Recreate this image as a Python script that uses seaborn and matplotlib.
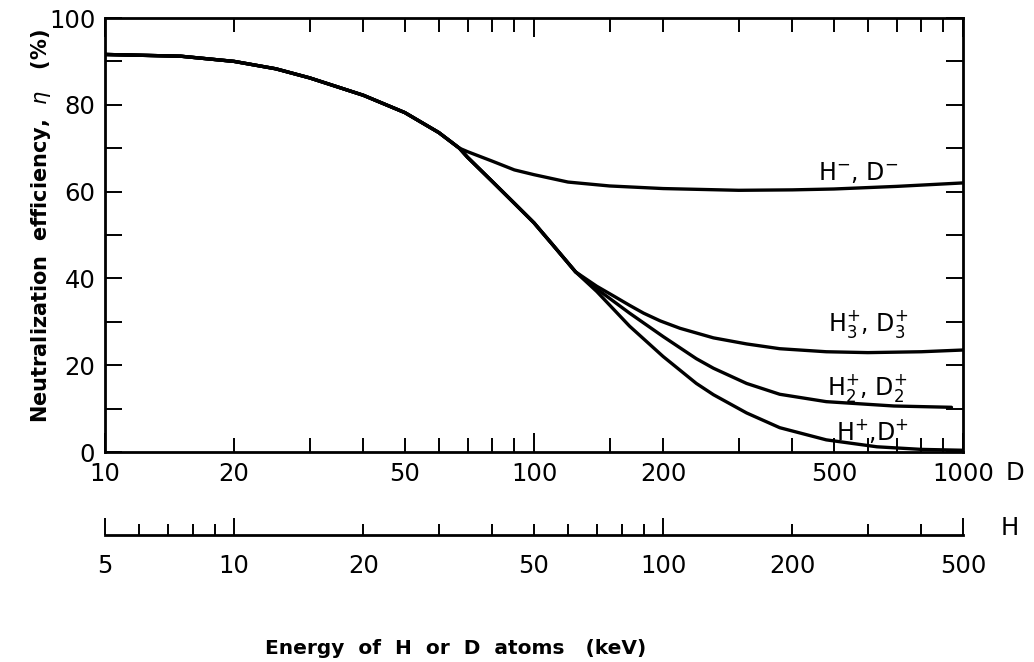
import matplotlib
matplotlib.use("Agg")
import matplotlib.pyplot as plt
import numpy as np
import pandas as pd
import seaborn as sns
from matplotlib.ticker import FixedLocator, FuncFormatter, NullFormatter

# ---------------- data (energy of D atoms in keV, efficiency in %) ----------------
beam_names = ["H-,D-", "H3+,D3+", "H2+,D2+", "H+,D+"]

energy_hminus = [10, 15, 20, 25, 30, 40, 50, 60, 67, 70, 80, 90, 100, 120, 150,
                 200, 300, 400, 500, 700, 1000]
eff_hminus = [91.6, 91.2, 90.0, 88.3, 86.2, 82.2, 78.2, 73.6, 70.0, 69.2, 67.0, 65.0,
              63.9, 62.2, 61.3, 60.7, 60.3, 60.4, 60.6, 61.2, 62.0]

energy_h3 = [10, 15, 20, 25, 30, 40, 50, 60, 67, 70, 80, 90, 100, 110, 125, 140, 153,
             167, 180, 197, 219, 262, 313, 374, 480, 600, 800, 1000]
eff_h3 = [91.6, 91.2, 90.0, 88.3, 86.2, 82.2, 78.2, 73.6, 70.0, 67.9, 62.3, 57.3, 52.8,
          48.0, 41.5, 38.2, 36.0, 33.8, 32.0, 30.2, 28.5, 26.3, 24.9, 23.8, 23.1, 22.9,
          23.1, 23.5]

energy_h2 = [10, 15, 20, 25, 30, 40, 50, 60, 67, 70, 80, 90, 100, 110, 125, 140, 167,
             200, 239, 262, 313, 374, 480, 690, 940]
eff_h2 = [91.6, 91.2, 90.0, 88.3, 86.2, 82.2, 78.2, 73.6, 70.0, 67.9, 62.3, 57.3, 52.8,
          48.0, 41.5, 37.6, 32.0, 26.6, 21.5, 19.3, 15.8, 13.3, 11.6, 10.6, 10.3]

energy_h1 = [10, 15, 20, 25, 30, 40, 50, 60, 67, 70, 80, 90, 100, 110, 125, 140, 167,
             200, 239, 262, 313, 374, 480, 630, 800, 1000]
eff_h1 = [91.6, 91.2, 90.0, 88.3, 86.2, 82.2, 78.2, 73.6, 70.0, 67.9, 62.3, 57.3, 52.8,
          48.0, 41.5, 37.0, 29.0, 22.0, 15.8, 13.2, 9.0, 5.6, 2.8, 1.2, 0.6, 0.4]

curve_labels = [r"H$^{-}$, D$^{-}$", r"H$_3^{+}$, D$_3^{+}$",
                r"H$_2^{+}$, D$_2^{+}$", r"H$^{+}$,D$^{+}$"]

d_major = [10, 100, 1000]
d_minor = [20, 30, 40, 50, 60, 70, 80, 90, 150, 200, 300, 400, 500, 600, 700, 800, 900]
d_labels = [10, 20, 50, 100, 200, 500, 1000]

h_major = [5, 10, 100, 500]
h_minor = [6, 7, 8, 9, 20, 30, 40, 50, 60, 70, 80, 90, 200, 300, 400]
h_labels = [5, 10, 20, 50, 100, 200, 500]

y_major = [0, 20, 40, 60, 80, 100]
y_minor = [10, 30, 50, 70, 90]

# ---------------- style ----------------
sns.set_style("ticks")
plt.rcParams["font.family"] = ["DejaVu Sans"]
plt.rcParams["mathtext.fontset"] = "dejavusans"
plt.rcParams["text.color"] = "black"
plt.rcParams["axes.labelcolor"] = "black"
plt.rcParams["xtick.color"] = "black"
plt.rcParams["ytick.color"] = "black"

frames = []
for name, e, v in zip(beam_names,
                      [energy_hminus, energy_h3, energy_h2, energy_h1],
                      [eff_hminus, eff_h3, eff_h2, eff_h1]):
    frames.append(pd.DataFrame({"energy": e, "eff": v, "beam": name}))
df = pd.concat(frames, ignore_index=True)

fig = plt.figure(figsize=(10.34, 6.62), dpi=100)
ax = fig.add_axes([105 / 1034, 1 - 452 / 662, 858 / 1034, 434 / 662])

sns.lineplot(data=df, x="energy", y="eff", units="beam", estimator=None,
             color="black", linewidth=2.4, sort=False, ax=ax, legend=False)

ax.set_xscale("log")
ax.set_xlim(10, 1000)
ax.set_ylim(0, 100)

ax.xaxis.set_major_locator(FixedLocator(d_major))
ax.xaxis.set_minor_locator(FixedLocator(d_minor))
fmt_d = FuncFormatter(lambda v, p: f"{v:g}" if any(abs(v - l) < 1e-6 for l in d_labels) else "")
ax.xaxis.set_major_formatter(fmt_d)
ax.xaxis.set_minor_formatter(fmt_d)
ax.yaxis.set_major_locator(FixedLocator(y_major))
ax.yaxis.set_minor_locator(FixedLocator(y_minor))
ax.yaxis.set_minor_formatter(NullFormatter())

for s in ax.spines.values():
    s.set_visible(True)
    s.set_linewidth(2.0)
    s.set_color("black")

ax.tick_params(axis="x", which="both", direction="in", top=True, bottom=True,
               labelsize=17.5, pad=7, width=1.4, colors="black")
ax.tick_params(axis="x", which="major", length=14)
ax.tick_params(axis="x", which="minor", length=10)
ax.tick_params(axis="y", which="both", direction="in", left=True, right=True,
               labelsize=17.5, pad=7, width=1.4, length=12, colors="black")

ax.set_xlabel("Energy  of  H  or  D  atoms   (keV)", fontsize=14.5,
              fontweight="bold")
ax.xaxis.set_label_coords(0.409, -0.43)
ax.set_ylabel(r"Neutralization  efficiency,  $\eta$   (%)", fontsize=15,
              fontweight="bold")
ax.yaxis.set_label_coords(-0.061, 0.52)

# secondary H scale (H energy = D energy / 2)
sec = ax.secondary_xaxis(-0.191, functions=(lambda d: d / 2.0, lambda h: h * 2.0))
sec.xaxis.set_major_locator(FixedLocator(h_major))
sec.xaxis.set_minor_locator(FixedLocator(h_minor))
fmt_h = FuncFormatter(lambda v, p: f"{v:g}" if any(abs(v - l) < 1e-6 for l in h_labels) else "")
sec.xaxis.set_major_formatter(fmt_h)
sec.xaxis.set_minor_formatter(fmt_h)
sec.tick_params(axis="x", which="both", direction="in", labelsize=17.5, pad=14,
                width=1.4, colors="black")
sec.tick_params(axis="x", which="major", length=12)
sec.tick_params(axis="x", which="minor", length=8)
for s in sec.spines.values():
    s.set_linewidth(2.0)
    s.set_color("black")

# axis names D and H
ax.text(1.0606, -0.048, "D", transform=ax.transAxes, ha="center", va="center",
        fontsize=17.5)
ax.text(1.0548, -0.175, "H", transform=ax.transAxes, ha="center", va="center",
        fontsize=17.5)

# curve labels
label_x = [569, 601, 596, 614]
label_y = [62.7, 27.9, 13.1, 2.8]
for t, lx, ly in zip(curve_labels, label_x, label_y):
    ax.text(lx, ly, t, ha="center", va="baseline", fontsize=17)

fig.savefig("out.png", dpi=100, facecolor="white")
